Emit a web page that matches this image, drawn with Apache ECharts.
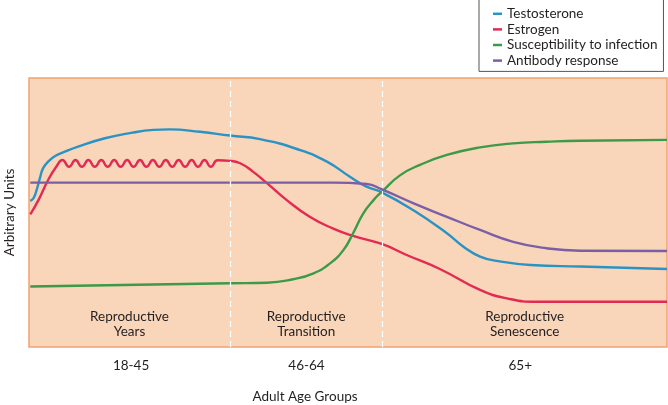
<!DOCTYPE html>
<html><head><meta charset="utf-8">
<script src="https://cdn.jsdelivr.net/npm/echarts@6/dist/echarts.min.js"></script>
<style>html,body{margin:0;padding:0;background:#fff}#c{width:668px;height:405px}</style>
</head><body><div id="c"></div>
<script>
// Categories / labels
const seriesNames = ['Testosterone', 'Estrogen', 'Susceptibility to infection', 'Antibody response'];
const ageGroups = ['18-45', '46-64', '65+'];
const ageGroupCenters = [16, 43.5, 77];
const phaseNames = ['Reproductive\nYears', 'Reproductive\nTransition', 'Reproductive\nSenescence'];
const phaseBounds = [0, 31.5, 55.4, 100];

// Series values [x (0-100 along ages), y (arbitrary units 0-100)]
const testosterone = [
  [0.2, 54.3], [0.7, 55.3], [1.2, 58.4], [1.7, 62.7], [2.2, 66.4], [3.0, 68.9], [4.1, 71.0],
  [5.6, 72.6], [7.7, 74.5], [11.9, 77.6], [16.0, 79.6], [19.5, 80.7], [22.0, 80.9],
  [26.8, 80.0], [31.5, 78.6], [36.2, 77.3], [42.5, 73.2], [46.7, 68.9], [50.3, 63.3],
  [52.9, 59.6], [55.3, 57.5], [60.2, 50.9], [65.5, 42.3], [68.1, 37.3], [70.7, 33.6],
  [73.6, 31.9], [78.6, 30.5], [86.4, 29.9], [100, 29.0]
];
const estrogen = [
  [0.2, 49.3], [1.5, 54.7], [3.0, 62.1], [4.3, 67.1],
  [5.25, 69.5], [6.27, 67.0], [7.29, 69.5], [8.29, 67.0], [9.31, 69.5], [10.31, 67.0],
  [11.33, 69.5], [12.34, 67.0], [13.35, 69.5], [14.36, 67.0], [15.38, 69.5], [16.38, 67.0],
  [17.40, 69.5], [18.40, 67.0], [19.42, 69.5], [20.42, 67.0], [21.44, 69.5], [22.45, 67.0],
  [23.46, 69.5], [24.47, 67.0], [25.49, 69.5], [26.49, 67.0], [27.51, 69.5], [28.51, 67.0],
  [29.55, 69.4], [31.5, 69.2],
  [33.1, 68.3], [35.1, 65.2], [37.3, 60.9], [40.4, 54.6], [44.0, 48.4], [47.6, 44.1],
  [50.8, 41.3], [55.3, 38.3], [59.2, 34.2], [64.4, 29.0], [70.7, 21.2], [74.9, 18.1],
  [79.6, 16.8], [100, 16.8]
];
const susceptibility = [
  [0.2, 22.5], [31.5, 23.7], [37.3, 23.9], [41.4, 25.2], [44.6, 27.4], [47.2, 31.1],
  [49.3, 36.1], [50.8, 42.3], [52.4, 49.7], [54.0, 54.6], [55.3, 57.7], [58.2, 63.9],
  [61.3, 67.7], [65.5, 71.4], [70.7, 74.2], [75.9, 75.7], [81.1, 76.3], [86.4, 76.7], [100, 77.0]
];
const antibody = [
  [0.2, 61.1], [47.6, 61.1], [52.9, 60.6], [55.3, 58.6], [60.2, 53.5], [65.5, 48.4],
  [70.7, 43.5], [75.9, 39.1], [81.1, 36.7], [86.4, 35.8], [100, 35.7]
];

const colors = ['#2a93c4', '#e22a52', '#3c9a48', '#7b5fa6'];
const FONT = 'Lato';
const FS = 13.5;
const chart = echarts.init(document.getElementById('c'), null, {renderer: 'canvas'});

const lineSeries = (name, data, color) => ({
  name, type: 'line', data, smooth: 0.5, showSymbol: false, symbol: 'none',
  lineStyle: {color, width: 2.4}, itemStyle: {color}, z: 3
});

const s0 = lineSeries(seriesNames[0], testosterone, colors[0]);
s0.markLine = {
  silent: true, symbol: 'none', label: {show: false},
  lineStyle: {color: '#ffffff', type: [6, 4], width: 1.2},
  data: [{xAxis: phaseBounds[1]}, {xAxis: phaseBounds[2]}]
};
s0.markArea = {
  silent: true,
  itemStyle: {color: 'rgba(0,0,0,0)'},
  label: {position: 'insideBottom', distance: 8, color: '#231f20', fontFamily: FONT, fontSize: FS, lineHeight: 15},
  data: phaseNames.map((n, i) => [{xAxis: phaseBounds[i], name: n}, {xAxis: phaseBounds[i + 1]}])
};

chart.setOption({
  animation: false,
  textStyle: {fontFamily: FONT},
  legend: {
    orient: 'vertical', left: 479, top: -1,
    backgroundColor: '#ffffff', borderColor: '#555', borderWidth: 1,
    padding: [7, 6, 3, 14], itemGap: 0, itemWidth: 9, itemHeight: 2.5, icon: 'rect',
    textStyle: {fontFamily: FONT, fontSize: FS, color: '#231f20', lineHeight: 15.6},
    data: seriesNames
  },
  grid: {left: 29, right: 1, top: 78, bottom: 58, show: true, outerBoundsMode: 'none',
    backgroundColor: '#f9d5b9', borderColor: '#f0a470', borderWidth: 1.5},
  xAxis: {
    type: 'value', min: 0, max: 100,
    name: 'Adult Age Groups', nameLocation: 'middle', nameGap: 43,
    nameTextStyle: {fontFamily: FONT, fontSize: FS, color: '#231f20', padding: [0, 86, 0, 0]},
    axisLine: {show: false}, axisTick: {show: false}, splitLine: {show: false},
    axisLabel: {
      customValues: ageGroupCenters, margin: 12, fontFamily: FONT, fontSize: FS, color: '#231f20',
      formatter: (v) => ageGroups[ageGroupCenters.indexOf(v)] || ''
    }
  },
  yAxis: {
    type: 'value', min: 0, max: 100,
    name: 'Arbitrary Units', nameLocation: 'middle', nameGap: 12,
    nameTextStyle: {fontFamily: FONT, fontSize: FS, color: '#231f20'},
    axisLine: {show: false}, axisTick: {show: false}, axisLabel: {show: false}, splitLine: {show: false}
  },
  series: [
    s0,
    lineSeries(seriesNames[1], estrogen, colors[1]),
    lineSeries(seriesNames[2], susceptibility, colors[2]),
    lineSeries(seriesNames[3], antibody, colors[3])
  ]
});
</script></body></html>
